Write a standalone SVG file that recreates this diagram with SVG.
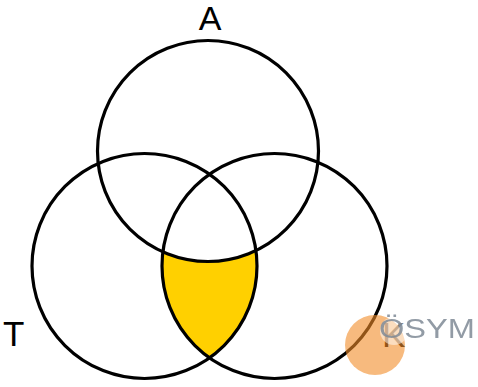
<svg xmlns="http://www.w3.org/2000/svg" width="478" height="387" viewBox="0 0 478 387">
  <style>
    .ring { fill: none; stroke: #000; stroke-width: 3.2; }
    .lbl { font-family: "Liberation Sans", Arial, sans-serif; fill: #000; }
  </style>
  <defs>
    <clipPath id="clipT"><circle cx="144.5" cy="266" r="112.5"/></clipPath>
    <mask id="notA">
      <rect width="478" height="387" fill="#fff"/>
      <circle cx="208" cy="151" r="110.5" fill="#000"/>
    </mask>
  </defs>
  <rect width="478" height="387" fill="#fff"/>
  <g id="region-TK-not-A">
    <circle cx="274.5" cy="266" r="112.5" fill="#FFD000" clip-path="url(#clipT)" mask="url(#notA)"/>
  </g>
  <g id="set-A">
    <circle class="ring" cx="208" cy="151" r="110.5"/>
    <text class="lbl" x="210" y="30" font-size="34" text-anchor="middle">A</text>
  </g>
  <g id="set-T">
    <circle class="ring" cx="144.5" cy="266" r="112.5"/>
    <text class="lbl" x="3" y="346" font-size="35">T</text>
  </g>
  <g id="set-K">
    <circle class="ring" cx="274.5" cy="266" r="112.5"/>
    <text class="lbl" x="382" y="347" font-size="35">K</text>
  </g>
  <g id="watermark">
    <circle cx="375" cy="345" r="30" fill="#F28C28" opacity="0.6"/>
    <circle cx="394" cy="331" r="14" fill="#fff" opacity="0.5"/>
    <text x="379" y="338" font-family="'Liberation Sans', Arial, sans-serif" font-size="27" fill="#7F8A96" opacity="0.85" textLength="96" lengthAdjust="spacingAndGlyphs">ÖSYM</text>
  </g>
</svg>
